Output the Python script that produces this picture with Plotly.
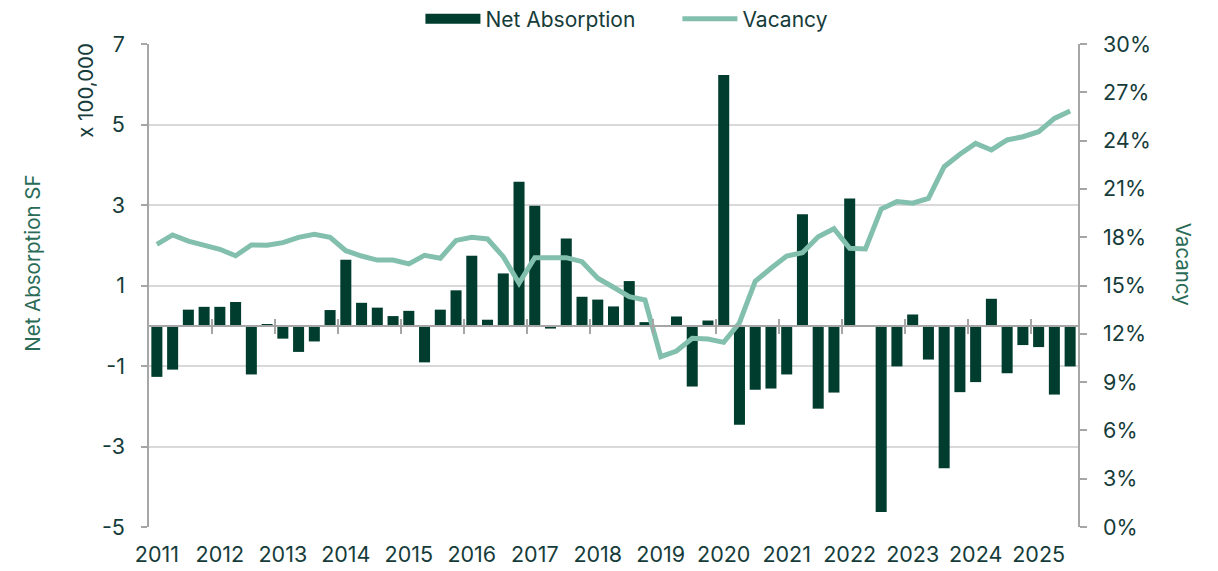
import plotly.graph_objects as go

years = [str(y) for y in range(2011, 2026)]
quarters = [f"{y} Q{q}" for y in range(2011, 2026) for q in range(1, 5)][:59]

net_absorption = [
    -1.27, -1.09, 0.40, 0.47, 0.47, 0.59, -1.21, 0.04,
    -0.32, -0.65, -0.39, 0.39, 1.64, 0.57, 0.45, 0.24,
    0.37, -0.91, 0.40, 0.88, 1.74, 0.15, 1.30, 3.58,
    2.98, -0.07, 2.17, 0.72, 0.65, 0.48, 1.11, 0.09,
    0.0, 0.23, -1.51, 0.13, 6.23, -2.46, -1.59, -1.56,
    -1.21, 2.77, -2.06, -1.66, 3.16, 0.0, -4.63, -1.01,
    0.28, -0.84, -3.54, -1.65, -1.40, 0.67, -1.18, -0.48,
    -0.53, -1.71, -1.01,
]

vacancy = [
    17.56, 18.14, 17.76, 17.52, 17.25, 16.85, 17.52, 17.50,
    17.66, 17.99, 18.18, 17.99, 17.16, 16.83, 16.58, 16.58,
    16.34, 16.87, 16.69, 17.80, 17.99, 17.89, 16.79, 15.14,
    16.73, 16.73, 16.73, 16.48, 15.45, 14.89, 14.31, 14.10,
    10.58, 10.93, 11.72, 11.68, 11.47, 12.69, 15.26, 16.07,
    16.83, 17.04, 18.03, 18.53, 17.31, 17.27, 19.75, 20.21,
    20.11, 20.41, 22.38, 23.15, 23.83, 23.42, 24.04, 24.24,
    24.55, 25.38, 25.84,
]

left_ticks = [-5, -3, -1, 1, 3, 5, 7]
left_labels = [str(v) for v in left_ticks]
right_ticks = list(range(0, 31, 3))
right_labels = [f"{v}%" for v in right_ticks]

idx = list(range(len(quarters)))
year_pos = [4 * k for k in range(len(years))]
year_bounds = [4 * k + 3.5 for k in range(len(years) - 1)]

BAR = "#003d2e"
LINE = "#82bfad"
TXT = "#163c3a"
TITLE = "#2a6b57"
AX = "#a6a6a6"
FONT = "Inter"
FS = 21.5

fig = go.Figure()
fig.add_trace(go.Bar(x=idx, y=net_absorption, name="Net Absorption", showlegend=False,
                     marker=dict(color=BAR, line=dict(width=0)), width=0.7,
                     customdata=quarters, hovertemplate="%{customdata}: %{y}<extra></extra>"))
fig.add_trace(go.Scatter(x=idx, y=vacancy, name="Vacancy", yaxis="y2", mode="lines",
                         line=dict(color=LINE, width=5), showlegend=False,
                         customdata=quarters, hovertemplate="%{customdata}: %{y}%<extra></extra>"))
# legend entries (wide bar swatch like the original), each in its own legend box
fig.add_trace(go.Scatter(x=[None], y=[None], mode="lines", name="Net Absorption",
                         line=dict(color=BAR, width=15), hoverinfo="skip", legend="legend"))
fig.add_trace(go.Scatter(x=[None], y=[None], mode="lines", name="Vacancy",
                         line=dict(color=LINE, width=5), hoverinfo="skip", legend="legend2"))
# helper empty traces so overlay x-axes (tick marks at zero line) are drawn
fig.add_trace(go.Scatter(x=[None], y=[None], xaxis="x2", showlegend=False, hoverinfo="skip"))
fig.add_trace(go.Scatter(x=[None], y=[None], xaxis="x3", showlegend=False, hoverinfo="skip"))

zero_pos = (0 - left_ticks[0]) / (left_ticks[-1] - left_ticks[0])
xr = [-0.5, len(quarters) - 0.5]

# the page body has an 8px margin, so the figure is sized/placed to compensate
W, H = 1210, 563
ML, MT = 141, 36
PW, PH = 929, 483

def px_x(p):
    return (p - 8 - ML) / PW

def px_y(p):
    return 1 + (MT + 8 - p) / PH

legend_common = dict(orientation="h", y=px_y(19), yanchor="middle", xanchor="left",
                     font=dict(size=21, color=TXT), itemwidth=55,
                     bgcolor="rgba(0,0,0,0)", borderwidth=0)

fig.update_layout(
    width=W, height=H,
    margin=dict(l=ML, r=W - ML - PW, t=MT, b=H - MT - PH, autoexpand=False),
    paper_bgcolor="white", plot_bgcolor="white",
    font=dict(family=FONT, size=FS, color=TXT),
    bargap=0.3,
    showlegend=True,
    legend=dict(x=px_x(426) - 0.006, **legend_common),
    legend2=dict(x=px_x(683) - 0.006, **legend_common),
    xaxis=dict(range=xr, tickmode="array", tickvals=year_pos, ticktext=years,
               showgrid=False, zeroline=False, showline=False, ticks="",
               ticklabelstandoff=12, tickfont=dict(size=FS, color=TXT)),
    xaxis2=dict(range=xr, overlaying="x", anchor="free", position=zero_pos,
                tickmode="array", tickvals=year_bounds, ticks="outside", ticklen=7,
                tickcolor=AX, tickwidth=1.5, showticklabels=False, showgrid=False,
                zeroline=False, showline=True, linecolor=AX, linewidth=1.5),
    xaxis3=dict(range=xr, overlaying="x", anchor="free", position=zero_pos,
                tickmode="array", tickvals=year_bounds, ticks="inside", ticklen=7,
                tickcolor=AX, tickwidth=1.5, showticklabels=False, showgrid=False,
                zeroline=False, showline=False),
    yaxis=dict(range=[left_ticks[0], left_ticks[-1]], tickmode="array", tickvals=left_ticks,
               ticktext=left_labels,
               showgrid=True, gridcolor="#d9d9d9", gridwidth=1.5, zeroline=False,
               showline=True, linecolor=AX, linewidth=1.5, ticks="outside", ticklen=6,
               tickcolor=AX, tickwidth=1.5, ticklabelstandoff=12,
               tickfont=dict(size=FS, color=TXT)),
    yaxis2=dict(range=[0, 30], overlaying="y", side="right", tickmode="array",
                tickvals=right_ticks, ticktext=right_labels, showgrid=False, zeroline=False,
                showline=True, linecolor=AX, linewidth=1.5, ticks="outside", ticklen=7,
                tickcolor=AX, tickwidth=1.5, ticklabelstandoff=12,
                tickfont=dict(size=FS, color=TXT)),
    annotations=[
        dict(text="Net Absorption SF", xref="paper", yref="paper", x=px_x(33), y=0.545,
             textangle=-90, showarrow=False, font=dict(size=20.5, color=TITLE),
             xanchor="center", yanchor="middle"),
        dict(text="x 100,000", xref="paper", yref="paper", x=px_x(86), y=0.903,
             textangle=-90, showarrow=False, font=dict(size=20.5, color=TXT),
             xanchor="center", yanchor="middle"),
        dict(text="Vacancy", xref="paper", yref="paper", x=px_x(1183), y=0.545,
             textangle=90, showarrow=False, font=dict(size=20.5, color=TITLE),
             xanchor="center", yanchor="middle"),
    ],
)

fig.write_html("out.html")
